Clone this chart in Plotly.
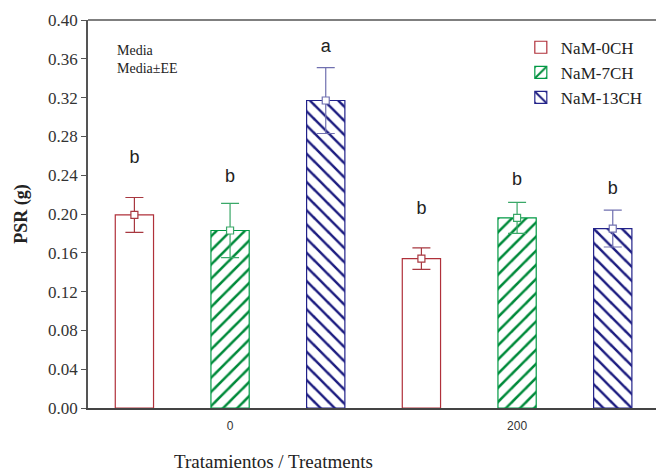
import plotly.graph_objects as go

categories = ["0", "200"]
series_names = ["NaM-0CH", "NaM-7CH", "NaM-13CH"]
means = {
    "NaM-0CH": [0.199, 0.154],
    "NaM-7CH": [0.183, 0.196],
    "NaM-13CH": [0.317, 0.185],
}
errors = {
    "NaM-0CH": [0.018, 0.011],
    "NaM-7CH": [0.028, 0.016],
    "NaM-13CH": [0.034, 0.019],
}
letters = {
    "NaM-0CH": ["b", "b"],
    "NaM-7CH": ["b", "b"],
    "NaM-13CH": ["a", "b"],
}
letter_y = {
    "NaM-0CH": [0.257, 0.205],
    "NaM-7CH": [0.238, 0.235],
    "NaM-13CH": [0.372, 0.225],
}
y_ticks = [0.00, 0.04, 0.08, 0.12, 0.16, 0.20, 0.24, 0.28, 0.32, 0.36, 0.40]

line_colors = {"NaM-0CH": "#b0303a", "NaM-7CH": "#009944", "NaM-13CH": "#22228a"}
pattern_colors = {"NaM-0CH": "#b0303a", "NaM-7CH": "#008a3a", "NaM-13CH": "#1c1c80"}
err_colors = {"NaM-0CH": "#a83840", "NaM-7CH": "#3aa868", "NaM-13CH": "#7070b0"}
patterns = {"NaM-0CH": "", "NaM-7CH": "/", "NaM-13CH": "\\"}

fig = go.Figure()
for i, s in enumerate(series_names):
    fig.add_trace(go.Bar(
        x=categories, y=means[s], name=s, offsetgroup=str(i),
        marker=dict(color="white", line=dict(color=line_colors[s], width=1.2),
                    pattern=dict(shape=patterns[s], fgcolor=pattern_colors[s], bgcolor="white",
                                 fgopacity=1, size=10, solidity=0.25)),
        error_y=dict(type="data", array=errors[s], color=err_colors[s], thickness=1.2, width=9),
    ))
for i, s in enumerate(series_names):
    fig.add_trace(go.Scatter(
        x=categories, y=means[s], offsetgroup=str(i), mode="markers", showlegend=False,
        marker=dict(symbol="square", size=7, color="white", line=dict(color=err_colors[s], width=1.2)),
        hoverinfo="skip",
    ))
for i, s in enumerate(series_names):
    fig.add_trace(go.Scatter(
        x=categories, y=letter_y[s], offsetgroup=str(i), mode="text", text=letters[s],
        textfont=dict(family="Arial", size=18, color="#222"), showlegend=False, hoverinfo="skip",
    ))

fig.add_shape(type="line", xref="paper", yref="paper", x0=0, x1=1, y0=1, y1=1,
              line=dict(color="#555", width=1.5))
fig.add_annotation(xref="paper", yref="paper", x=0.047, y=0.945, xanchor="left", yanchor="top",
                   text="Media<br>Media±EE", showarrow=False, align="left",
                   font=dict(family="Liberation Serif", size=14, color="#222"))
fig.add_annotation(xref="paper", yref="paper", x=0.327, y=-0.138, xanchor="center", yanchor="middle",
                   text="Tratamientos / Treatments", showarrow=False,
                   font=dict(family="Liberation Serif", size=19, color="#222"))

fig.update_layout(
    width=656, height=472,
    margin=dict(l=88, r=0, t=20, b=64),
    paper_bgcolor="white", plot_bgcolor="white",
    barmode="group", bargap=0.0, bargroupgap=0.6,
    scattermode="group", scattergap=0.0,
    showlegend=True,
    legend=dict(x=0.762, y=0.975, xanchor="left", yanchor="top", bgcolor="rgba(0,0,0,0)",
                font=dict(family="Liberation Serif", size=17, color="#222"),
                tracegroupgap=0, itemwidth=30),
    xaxis=dict(type="category", range=[-0.495, 1.484], showline=True, linecolor="#444", linewidth=1.5,
               ticks="", ticklabelstandoff=6, tickfont=dict(family="Arial", size=12, color="#333")),
    yaxis=dict(range=[0, 0.40], tickvals=y_ticks, tickformat=".2f", showline=True,
               linecolor="#555", linewidth=1.5, ticks="outside", ticklen=5, tickcolor="#555",
               showgrid=False, zeroline=False,
               tickfont=dict(family="Liberation Serif", size=17, color="#333"),
               title=dict(text="<b>PSR (g)</b>", standoff=16,
                          font=dict(family="Liberation Serif", size=18, color="#222"))),
)
fig.write_html("out.html", config={"displayModeBar": False},
               post_script="document.body.style.margin='0';")
